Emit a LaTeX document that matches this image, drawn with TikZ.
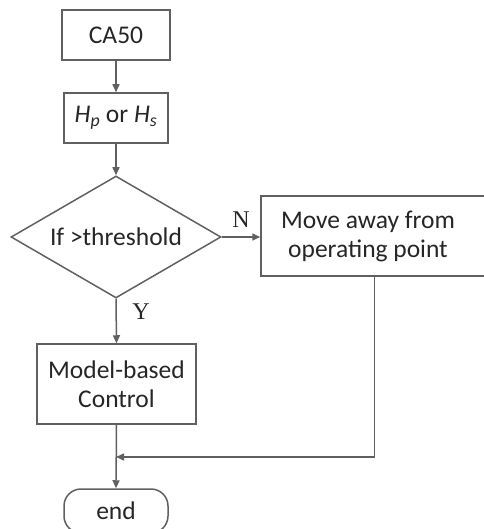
\documentclass[tikz,border=0pt]{standalone}
\usepackage{fontspec}
\setmainfont{Carlito}
\newfontfamily\serifyn{Liberation Serif}
\usetikzlibrary{shapes.geometric,arrows.meta}
\definecolor{linegray}{HTML}{606060}
\definecolor{txt}{HTML}{262626}
\begin{document}
\begin{tikzpicture}[x=1pt,y=-1pt,
  every node/.style={text=txt,font=\fontsize{25.5}{29}\selectfont},
  box/.style={draw=linegray,line width=1.5pt,rectangle,inner sep=0pt,align=center},
  conn/.style={draw=linegray,line width=1.5pt,-{Triangle[length=8pt,width=7pt]}},
  yn/.style={font=\serifyn\fontsize{24}{28}\selectfont,text=txt}]
\useasboundingbox (0,0) rectangle (483,529);
\node[box,minimum width=108pt,minimum height=50pt] (ca) at (116,35) {CA50};
\node[box,minimum width=104pt,minimum height=50pt] (h) at (116,118) {\textit{H\textsubscript{p}} or \textit{H\textsubscript{s}}};
\node[draw=linegray,line width=1.5pt,diamond,aspect=1.72,minimum width=210pt,minimum height=122pt,inner sep=0pt] (d) at (116,237) {If >threshold};
\node[box,minimum width=227pt,minimum height=80pt] (mv) at (374.5,236) {};
\node[align=center] (mvt) at (368,236) {Move away from\\operating point};
\node[box,minimum width=159pt,minimum height=80pt] (mb) at (116.5,384) {Model-based\\Control};
\node[draw=linegray,line width=1.5pt,rounded corners=17pt,minimum width=104pt,minimum height=44pt,inner sep=0pt] (e) at (116,511) {end};
\coordinate (j) at (116,457);
\draw[conn] (ca) -- (h);
\draw[conn] (h) -- (d.north);
\draw[conn] (d.east) -- (mv.west |- d.east) node[yn,midway,above=5pt] {N};
\draw[conn] (d.south) -- (mb.north) node[yn,midway,right=12pt,yshift=9pt] {Y};
\draw[conn] (mb.south) -- (e.north);
\draw[conn] (mv.south) |- (j);
\end{tikzpicture}
\end{document}
